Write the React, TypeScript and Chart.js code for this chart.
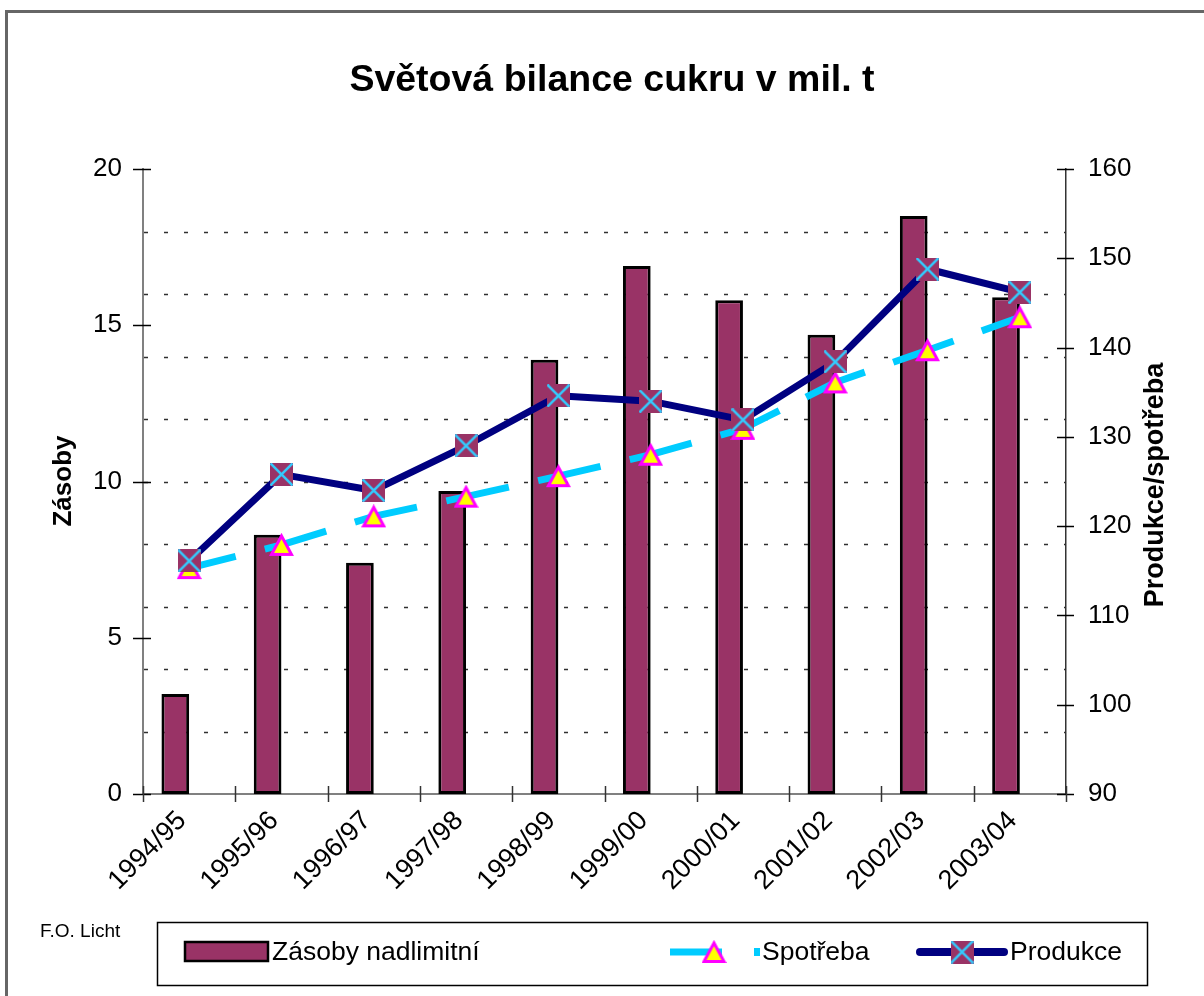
import React, { useEffect, useRef } from 'react';
import { Chart, registerables } from 'chart.js';

Chart.register(...registerables);

// ---------------- data ----------------
const categories = ['1994/95', '1995/96', '1996/97', '1997/98', '1998/99', '1999/00', '2000/01', '2001/02', '2002/03', '2003/04'];
const zasobyNadlimitni = [3.2, 8.3, 7.4, 9.7, 13.9, 16.9, 15.8, 14.7, 18.5, 15.9];
const spotreba = [115.3, 117.9, 121.1, 123.3, 125.6, 128.0, 130.9, 136.1, 139.7, 143.4];
const produkce = [116.1, 125.8, 124.0, 129.0, 134.6, 134.0, 131.9, 138.4, 148.8, 146.2];
const emptySeries = categories.map(() => null);
const gridValues = [2, 4, 6, 8, 10, 12, 14, 16, 18];

const titleText = 'Světová bilance cukru v mil. t';
const leftAxisTitle = 'Zásoby';
const rightAxisTitle = 'Produkce/spotřeba';
const sourceText = 'F.O. Licht';
const legendLabels = ['Zásoby nadlimitní', 'Spotřeba', 'Produkce'];

const FONT = '"Liberation Sans", Arial, Helvetica, sans-serif';
const MAROON = '#993366';
const CYAN = '#00CCFF';
const NAVY = '#000080';
const YELLOW = '#FFFF00';
const MAGENTA = '#FF00FF';

function makeSquareMarker(): HTMLCanvasElement {
  const c = document.createElement('canvas');
  c.width = 23;
  c.height = 23;
  const g = c.getContext('2d')!;
  g.fillStyle = MAROON;
  g.fillRect(0, 0, 23, 23);
  g.strokeStyle = '#33CCFF';
  g.lineWidth = 2.5;
  g.beginPath();
  g.moveTo(0.5, 0.5);
  g.lineTo(22.5, 22.5);
  g.moveTo(22.5, 0.5);
  g.lineTo(0.5, 22.5);
  g.stroke();
  return c;
}

function makeTriangleMarker(): HTMLCanvasElement {
  const c = document.createElement('canvas');
  c.width = 25;
  c.height = 24;
  const g = c.getContext('2d')!;
  g.fillStyle = YELLOW;
  g.strokeStyle = MAGENTA;
  g.lineWidth = 3;
  g.lineJoin = 'miter';
  g.beginPath();
  g.moveTo(12.5, 3);
  g.lineTo(22.5, 21.5);
  g.lineTo(2.5, 21.5);
  g.closePath();
  g.fill();
  g.stroke();
  return c;
}

export default function App() {
  const ref = useRef<HTMLCanvasElement | null>(null);

  useEffect(() => {
    const canvas = ref.current;
    if (!canvas) return;
    const square = makeSquareMarker();
    const triangle = makeTriangleMarker();

    const decor = {
      id: 'decor',
      beforeDatasetsDraw(chart: any) {
        const { ctx, chartArea } = chart;
        const y = chart.scales.y;
        ctx.save();
        ctx.strokeStyle = '#303030';
        ctx.lineWidth = 1.3;
        ctx.setLineDash([4, 16]);
        gridValues.forEach((v) => {
          const py = Math.round(y.getPixelForValue(v)) + 0.5;
          ctx.beginPath();
          ctx.moveTo(chartArea.left + 1, py);
          ctx.lineTo(chartArea.right, py);
          ctx.stroke();
        });
        ctx.restore();
      },
      afterDraw(chart: any) {
        const { ctx, chartArea } = chart;
        const y = chart.scales.y;
        const y1 = chart.scales.y1;
        ctx.save();

        // outer frame
        ctx.strokeStyle = '#666666';
        ctx.lineWidth = 3;
        ctx.strokeRect(6.5, 11.5, 1300, 1100);

        // tick marks crossing the axes
        ctx.strokeStyle = '#000';
        ctx.lineWidth = 1.5;
        y.ticks.forEach((t: any) => {
          const py = Math.round(y.getPixelForValue(t.value)) + 0.5;
          ctx.beginPath();
          ctx.moveTo(chartArea.left - 10, py);
          ctx.lineTo(chartArea.left + 8, py);
          ctx.stroke();
        });
        y1.ticks.forEach((t: any) => {
          const py = Math.round(y1.getPixelForValue(t.value)) + 0.5;
          ctx.beginPath();
          ctx.moveTo(chartArea.right - 9, py);
          ctx.lineTo(chartArea.right + 8, py);
          ctx.stroke();
        });
        const n = categories.length;
        const cw = (chartArea.right - chartArea.left) / n;
        ctx.strokeStyle = '#333';
        for (let i = 0; i <= n; i++) {
          const px = Math.round(chartArea.left + i * cw) + 0.5;
          ctx.beginPath();
          ctx.moveTo(px, chartArea.bottom - 8);
          ctx.lineTo(px, chartArea.bottom + 8);
          ctx.stroke();
        }

        // title
        ctx.fillStyle = '#000';
        ctx.font = `bold 37.5px ${FONT}`;
        ctx.textAlign = 'center';
        ctx.textBaseline = 'alphabetic';
        ctx.fillText(titleText, 612, 91);

        // axis titles
        ctx.textBaseline = 'middle';
        ctx.font = `bold 26px ${FONT}`;
        ctx.save();
        ctx.translate(64, 481);
        ctx.rotate(-Math.PI / 2);
        ctx.fillText(leftAxisTitle, 0, 0);
        ctx.restore();
        ctx.font = `bold 27px ${FONT}`;
        ctx.save();
        ctx.translate(1156, 485);
        ctx.rotate(-Math.PI / 2);
        ctx.fillText(rightAxisTitle, 0, 0);
        ctx.restore();

        // source
        ctx.font = `19px ${FONT}`;
        ctx.textAlign = 'left';
        ctx.fillText(sourceText, 40, 932);

        // legend box
        ctx.strokeStyle = '#000';
        ctx.lineWidth = 1.5;
        ctx.strokeRect(157.5, 922.5, 990, 63);
        const ly = 952;
        // bar swatch
        ctx.fillStyle = MAROON;
        ctx.fillRect(185, 942, 83, 19);
        ctx.lineWidth = 2.5;
        ctx.strokeRect(185, 942, 83, 19);
        ctx.fillStyle = '#000';
        ctx.font = `26.5px ${FONT}`;
        ctx.textBaseline = 'middle';
        ctx.fillText(legendLabels[0], 272, ly + 1);
        // spotreba swatch
        ctx.strokeStyle = CYAN;
        ctx.lineWidth = 7;
        ctx.lineCap = 'butt';
        ctx.beginPath();
        ctx.moveTo(670, ly);
        ctx.lineTo(722, ly);
        ctx.stroke();
        ctx.fillStyle = CYAN;
        ctx.fillRect(754, ly - 4, 6, 8);
        ctx.drawImage(triangle, 714 - triangle.width / 2, ly - triangle.height / 2);
        ctx.fillStyle = '#000';
        ctx.fillText(legendLabels[1], 762, ly + 1);
        // produkce swatch
        ctx.strokeStyle = NAVY;
        ctx.lineWidth = 8;
        ctx.lineCap = 'round';
        ctx.beginPath();
        ctx.moveTo(920, ly);
        ctx.lineTo(1004, ly);
        ctx.stroke();
        ctx.drawImage(square, 962 - square.width / 2, ly - square.height / 2);
        ctx.fillText(legendLabels[2], 1010, ly + 1);

        ctx.restore();
      },
    };

    const chart = new Chart(canvas, {
      type: 'bar',
      data: {
        labels: categories,
        datasets: [
          {
            type: 'line',
            label: 'Produkce',
            data: produkce,
            yAxisID: 'y1',
            borderColor: NAVY,
            borderWidth: 7,
            borderJoinStyle: 'round',
            borderCapStyle: 'round',
            pointStyle: square as any,
            pointRadius: 12,
            tension: 0,
            fill: false,
            order: 0,
          } as any,
          {
            type: 'line',
            label: 'Spotřeba',
            data: spotreba,
            yAxisID: 'y1',
            borderColor: CYAN,
            borderWidth: 7,
            borderDash: [64, 30],
            borderDashOffset: 16,
            borderCapStyle: 'butt',
            pointStyle: triangle as any,
            pointRadius: 12,
            tension: 0,
            fill: false,
            order: 1,
          } as any,
          {
            type: 'bar',
            label: 'Zásoby nadlimitní',
            data: zasobyNadlimitni,
            yAxisID: 'y',
            backgroundColor: MAROON,
            borderColor: '#000',
            borderWidth: 3,
            borderSkipped: false,
            categoryPercentage: 0.6,
            barPercentage: 1,
            order: 2,
          } as any,
          {
            type: 'bar',
            label: '',
            data: emptySeries,
            yAxisID: 'y',
            backgroundColor: 'transparent',
            categoryPercentage: 0.6,
            barPercentage: 1,
            order: 3,
          } as any,
        ],
      },
      options: {
        responsive: false,
        animation: false,
        devicePixelRatio: 1,
        events: [],
        layout: { padding: { top: 169, left: 0, right: 0, bottom: 0 } },
        plugins: {
          legend: { display: false },
          title: { display: false },
          tooltip: { enabled: false },
        },
        scales: {
          x: {
            type: 'category',
            offset: true,
            grid: { display: false, offset: true },
            border: { display: true, color: '#808080', width: 2 },
            ticks: {
              color: '#000',
              font: { family: FONT, size: 27 },
              maxRotation: 45,
              minRotation: 45,
              autoSkip: false,
              padding: 3,
              labelOffset: -7,
            },
            afterFit: (s: any) => {
              s.height = 202;
            },
          },
          y: {
            type: 'linear',
            position: 'left',
            min: 0,
            max: 20,
            grid: { display: false },
            border: { display: true, color: '#808080', width: 2 },
            ticks: {
              stepSize: 5,
              color: '#000',
              font: { family: FONT, size: 26 },
              padding: 13,
            },
            afterFit: (s: any) => {
              s.width = 143;
            },
          },
          y1: {
            type: 'linear',
            position: 'right',
            min: 90,
            max: 160,
            grid: { display: false },
            border: { display: true, color: '#333', width: 1.5 },
            ticks: {
              stepSize: 10,
              color: '#000',
              font: { family: FONT, size: 26 },
              padding: 14,
            },
            afterFit: (s: any) => {
              s.width = 138;
            },
          },
        },
      } as any,
      plugins: [decor],
    });

    return () => chart.destroy();
  }, []);

  return (
    <div style={{ position: 'absolute', left: 0, top: 0, width: 1204, height: 996, background: '#fff' }}>
      <canvas ref={ref} width={1204} height={996} style={{ display: 'block' }} />
    </div>
  );
}
